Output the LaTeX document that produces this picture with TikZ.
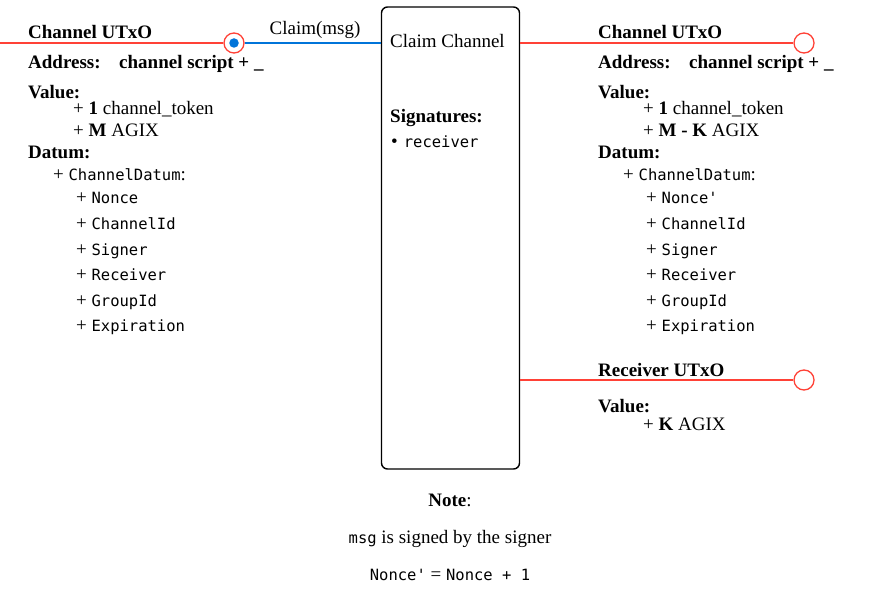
\documentclass[tikz,border=0pt]{standalone}
\usepackage{fontspec}
\setmainfont{Liberation Serif}
\setmonofont{DejaVu Sans Mono}
\definecolor{tred}{HTML}{FF4136}
\definecolor{tblue}{HTML}{0074D9}
\newcommand\mymono[1]{{\fontsize{15.5}{18}\selectfont\ttfamily #1}}
\begin{document}
\begin{tikzpicture}[x=1pt,y=-1pt,
  txt/.style={anchor=base west,inner sep=0pt,font=\fontsize{19}{21}\selectfont},
  ctxt/.style={anchor=base,inner sep=0pt,font=\fontsize{19}{21}\selectfont},
  redline/.style={draw=tred,line width=1.3pt},
  blueline/.style={draw=tblue,line width=1.3pt},
  port/.style={circle,draw=tred,line width=1.3pt,fill=white,minimum size=20pt,inner sep=0pt},
  bdot/.style={circle,fill=tblue,minimum size=9.5pt,inner sep=0pt},
  chbox/.style={draw=black,line width=1.4pt,rounded corners=6pt,minimum width=138pt,minimum height=462pt,inner sep=0pt}]
\useasboundingbox (0,0) rectangle (874,612);

% central box
\node[chbox] (claim) at (450.5,238) {};
\node[txt] (claimlbl) at (390,48) {Claim Channel};
\node[txt] (sig) at (390,123) {\textbf{Signatures:}};
\node[txt] (sigrec) at (391,148) {\textbullet\hspace{6pt}\mymono{receiver}};

% left port
\coordinate (lend) at (0,43);
\node[port] (lp) at (234,43) {};
\node[bdot] (ldot) at (lp) {};
\draw[redline] (lend) -- (lp.west);
\draw[blueline] (lp.east) -- (lp -| claim.west);
\node[ctxt] (claimmsg) at (315,35) {Claim(msg)};

% right ports
\node[port] (rp1) at (804,43) {};
\draw[redline] (rp1 -| claim.east) -- (rp1.west);
\node[port] (rp2) at (804,380) {};
\draw[redline] (rp2 -| claim.east) -- (rp2.west);

% left UTxO
\node[txt] (l1) at (28,39) {\textbf{Channel UTxO}};
\node[txt] (l2) at (28,69) {\textbf{Address:}};
\node[txt] (l2b) at (119,69) {\textbf{channel script + \_}};
\node[txt] (l3) at (28,99) {\textbf{Value:}};
\node[txt] (l4) at (73,115) {+ \textbf{1} channel\_token};
\node[txt] (l5) at (73,136.5) {+ \textbf{M} AGIX};
\node[txt] (l6) at (28,159) {\textbf{Datum:}};
\node[txt] (l7) at (53,180.5) {+ \mymono{ChannelDatum}:};
\node[txt] (l8) at (76,204) {+ \mymono{Nonce}};
\node[txt] (l9) at (76,229.5) {+ \mymono{ChannelId}};
\node[txt] (l10) at (76,255) {+ \mymono{Signer}};
\node[txt] (l11) at (76,280.5) {+ \mymono{Receiver}};
\node[txt] (l12) at (76,306) {+ \mymono{GroupId}};
\node[txt] (l13) at (76,331.5) {+ \mymono{Expiration}};

% right UTxO
\node[txt] (r1) at (598,39) {\textbf{Channel UTxO}};
\node[txt] (r2) at (598,69) {\textbf{Address:}};
\node[txt] (r2b) at (689,69) {\textbf{channel script + \_}};
\node[txt] (r3) at (598,99) {\textbf{Value:}};
\node[txt] (r4) at (643,115) {+ \textbf{1} channel\_token};
\node[txt] (r5) at (643,136.5) {+ \textbf{M - K} AGIX};
\node[txt] (r6) at (598,159) {\textbf{Datum:}};
\node[txt] (r7) at (623,180.5) {+ \mymono{ChannelDatum}:};
\node[txt] (r8) at (646,204) {+ \mymono{Nonce'}};
\node[txt] (r9) at (646,229.5) {+ \mymono{ChannelId}};
\node[txt] (r10) at (646,255) {+ \mymono{Signer}};
\node[txt] (r11) at (646,280.5) {+ \mymono{Receiver}};
\node[txt] (r12) at (646,306) {+ \mymono{GroupId}};
\node[txt] (r13) at (646,331.5) {+ \mymono{Expiration}};

% receiver UTxO
\node[txt] (q1) at (598,376.5) {\textbf{Receiver UTxO}};
\node[txt] (q2) at (598,412.5) {\textbf{Value:}};
\node[txt] (q3) at (643,430) {+ \textbf{K} AGIX};

% note
\node[ctxt] (n1) at (450,506.5) {\textbf{Note}:};
\node[ctxt] (n2) at (450,543) {\mymono{msg} is signed by the signer};
\node[ctxt] (n3) at (450,580.5) {\mymono{Nonce'} = \mymono{Nonce + 1}};
\end{tikzpicture}
\end{document}
